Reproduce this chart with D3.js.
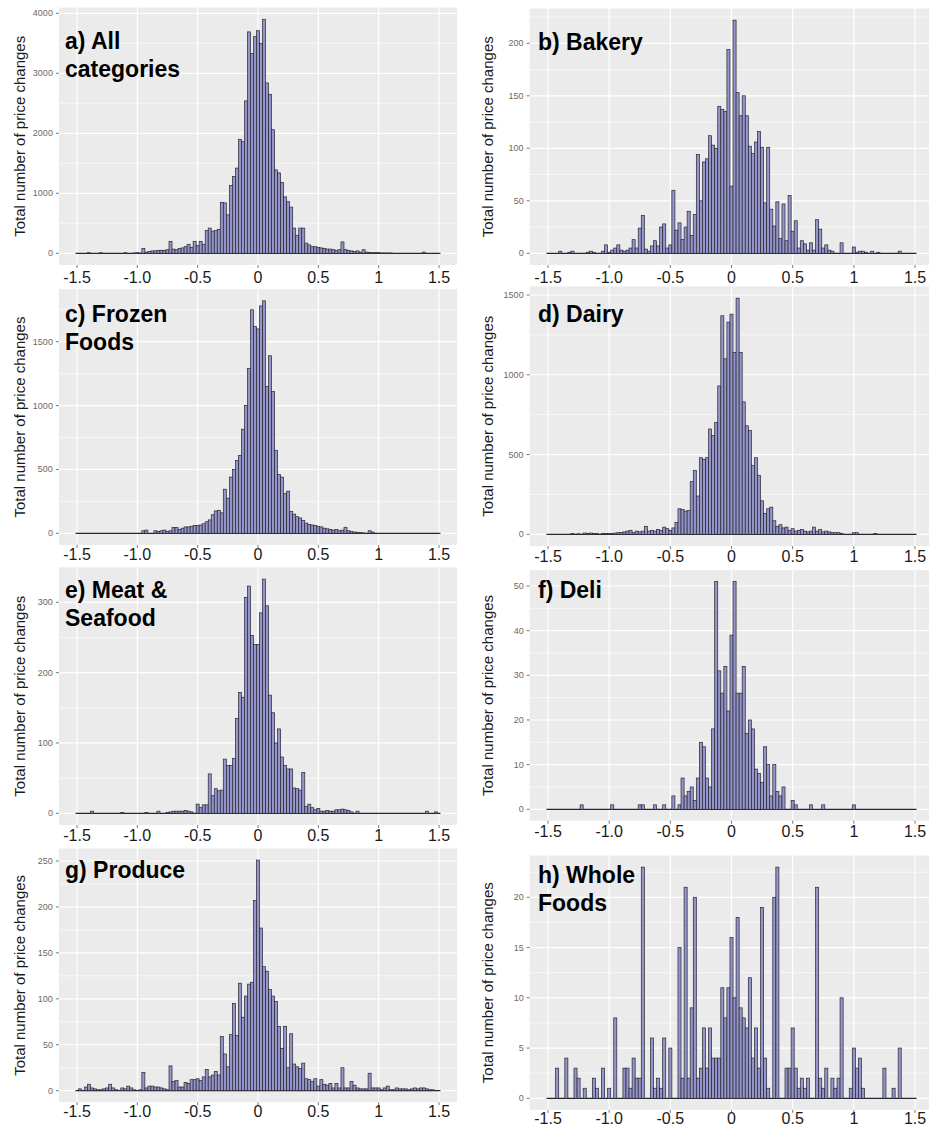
<!DOCTYPE html>
<html>
<head>
<meta charset="utf-8">
<script src="https://cdn.jsdelivr.net/npm/d3@7"></script>
<style>
  body { margin: 0; background: #fff; }
  svg { display: block; font-family: "Liberation Sans", Arial, sans-serif; }
</style>
</head>
<body>
<script>
  // bins are centred on -1.5, -1.475, ... 1.5 (121 bins)
  var binStart = -1.5;
  var binWidth = 0.025;

  var xTickValues = [-1.5, -1, -0.5, 0, 0.5, 1, 1.5];
  var xTickLabels = ["-1.5", "-1.0", "-0.5", "0", "0.5", "1", "1.5"];

  // counts per bin
  var allCategories = [
    0,0,0,0,10,0,0,0,10,0,
    0,0,0,0,0,0,10,0,0,5,
    10,5,80,20,30,40,40,50,50,50,
    60,200,70,60,80,90,110,150,100,200,
    130,200,150,380,420,370,380,400,850,840,
    640,1130,1280,1420,1900,1860,2540,3690,3330,3610,
    3710,3500,3900,2840,2650,2060,1390,1340,1180,940,
    860,770,420,300,420,420,170,140,110,110,
    100,90,80,70,70,60,50,60,190,60,
    50,40,30,40,20,60,20,15,10,10,
    10,5,5,5,5,0,0,0,0,0,
    0,0,0,0,0,20,0,0,0,0,0];
  var bakery = [
    0,0,0,0,2,0,0,1,2,0,
    0,0,0,1,2,1,0,0,2,8,
    1,3,5,8,3,2,3,5,13,5,
    24,36,4,2,7,12,7,25,28,5,
    8,60,22,29,13,25,40,17,37,94,
    50,87,90,112,103,100,140,137,135,194,
    64,222,153,131,150,131,102,95,106,116,
    101,48,101,42,26,49,14,47,12,55,
    21,31,5,12,9,3,10,3,32,23,
    5,8,3,2,0,0,10,0,0,0,
    6,1,2,2,1,0,2,0,1,0,
    0,0,0,0,0,2,0,0,0,0,0];
  var frozenFoods = [
    0,0,0,0,0,0,0,0,0,0,
    0,0,0,0,0,0,0,0,0,0,
    0,0,20,25,0,0,20,15,20,25,
    15,20,45,45,30,40,50,50,55,60,
    60,65,75,90,105,145,175,180,160,345,
    275,440,500,570,610,815,1000,1290,1750,1620,
    1600,1780,1820,1150,1390,1110,650,460,440,310,
    330,170,150,130,120,100,80,70,65,60,
    55,50,40,35,30,25,30,20,25,47,
    20,15,10,8,5,3,0,20,10,0,
    0,0,0,0,0,0,0,0,0,0,
    0,0,0,0,0,0,0,0,0,0,0];
  var dairy = [
    0,0,0,0,0,0,0,0,5,0,
    3,0,8,5,8,5,5,0,5,5,
    5,5,8,10,12,15,20,25,10,20,
    15,20,50,20,25,20,30,25,45,35,
    25,40,75,160,155,145,150,330,400,240,
    480,470,480,660,620,700,930,1370,1100,1330,
    1380,1140,1480,1140,830,680,650,430,480,370,
    210,130,160,170,85,50,60,40,45,25,
    35,20,25,30,20,15,20,45,20,30,
    15,20,15,10,10,10,5,0,0,0,
    10,10,0,0,0,0,0,5,0,0,
    0,0,0,0,0,0,0,0,0,0,0];
  var meatSeafood = [
    0,0,0,0,0,3,0,0,0,0,
    0,0,0,0,0,1,0,0,0,0,
    0,0,0,1,0,0,0,3,0,0,
    1,2,3,3,3,3,4,3,2,0,
    13,8,12,12,56,25,35,32,33,77,
    68,68,78,135,172,165,307,323,253,240,
    240,285,333,295,168,143,100,120,80,68,
    63,63,36,35,33,58,10,13,8,5,
    7,3,3,4,3,3,5,5,6,5,
    4,2,0,3,0,0,0,0,0,0,
    0,0,0,0,0,0,0,0,0,0,
    0,0,0,0,0,0,3,0,0,2,0];
  var deli = [
    0,0,0,0,0,0,0,0,0,0,
    0,1,0,0,0,0,0,0,0,0,
    0,1,0,0,0,0,0,0,0,0,
    1,1,0,0,0,1,0,0,1,0,
    0,3,0,1,7,3,4,5,2,7,
    15,14,7,5,18,51,31,26,32,22,
    39,51,26,26,32,17,20,18,9,8,
    6,14,10,3,10,4,3,5,0,0,
    2,1,0,0,0,0,1,0,0,0,
    1,0,0,0,0,0,0,0,0,0,
    1,0,0,0,0,0,0,0,0,0,
    0,0,0,0,0,0,0,0,0,0,0];
  var produce = [
    0,2,0,4,7,3,2,1,1,2,
    3,7,3,1,0,3,2,5,3,1,
    0,1,20,3,5,5,4,4,3,2,
    1,27,10,11,4,4,9,8,12,12,
    13,11,15,23,15,17,21,17,59,40,
    26,61,95,60,117,80,103,116,118,207,
    251,177,135,130,110,103,97,70,46,70,
    25,62,29,26,24,30,13,12,10,13,
    5,12,7,6,8,3,8,3,25,3,
    3,10,6,3,2,2,2,19,3,3,
    3,1,3,5,1,1,3,2,2,2,
    1,2,3,2,3,3,2,1,1,0,0];
  var wholeFoods = [
    0,0,0,3,0,0,4,0,0,3,
    2,0,1,0,0,2,1,0,3,0,
    1,0,8,0,0,3,3,1,4,2,
    2,23,0,0,6,1,2,1,6,0,
    5,0,0,15,2,21,2,9,20,2,
    3,7,3,7,4,4,4,11,8,11,
    16,10,18,9,8,7,12,4,7,3,
    19,4,1,0,20,23,0,0,3,3,
    7,3,1,2,1,2,0,0,21,2,
    1,3,0,2,1,2,10,0,0,1,
    5,3,4,1,0,0,0,0,0,0,
    3,0,0,1,0,5,0,0,0,0,0];

  var panels = [
    {title: ["a) All", "categories"], counts: allCategories, yTicks: [0,1000,2000,3000,4000],
     col: 0, zeroY: 253.3, refY: 13.3, titleY: 49.3, labelY: 283},
    {title: ["b) Bakery"], counts: bakery, yTicks: [0,50,100,150,200],
     col: 1, zeroY: 253.3, refY: 43.3, titleY: 50, labelY: 283},
    {title: ["c) Frozen", "Foods"], counts: frozenFoods, yTicks: [0,500,1000,1500],
     col: 0, zeroY: 533.3, refY: 341.7, titleY: 321.7, labelY: 560},
    {title: ["d) Dairy"], counts: dairy, yTicks: [0,500,1000,1500],
     col: 1, zeroY: 534.3, refY: 295, titleY: 321.7, labelY: 562},
    {title: ["e) Meat &", "Seafood"], counts: meatSeafood, yTicks: [0,100,200,300],
     col: 0, zeroY: 813.3, refY: 602.3, titleY: 597.7, labelY: 841},
    {title: ["f) Deli"], counts: deli, yTicks: [0,10,20,30,40,50],
     col: 1, zeroY: 809.3, refY: 586, titleY: 597.7, labelY: 837},
    {title: ["g) Produce"], counts: produce, yTicks: [0,50,100,150,200,250],
     col: 0, zeroY: 1090.7, refY: 861, titleY: 877.7, labelY: 1117},
    {title: ["h) Whole", "Foods"], counts: wholeFoods, yTicks: [0,5,10,15,20],
     col: 1, zeroY: 1098.3, refY: 897.3, titleY: 883.3, labelY: 1124}
  ];

  // pixel positions of -1.5 and 1.5 in each column
  var colX = [[77, 439], [548, 915]];
  var colTitleX = [65, 538];
  var colAxisTitleX = [25, 493];

  var svg = d3.select('body').append('svg')
    .attr('width', 929)
    .attr('height', 1127);

  panels.forEach(function(p) {
    var xScale = d3.scaleLinear().domain([-1.5, 1.5]).range(colX[p.col]);
    var top = p.yTicks[p.yTicks.length - 1];
    var yScale = d3.scaleLinear().domain([0, top]).range([p.zeroY, p.refY]);
    var maxCount = d3.max(p.counts);

    var bins = p.counts.map(function(c, i) {
      var mid = binStart + i * binWidth;
      return {x0: mid - binWidth / 2, x1: mid + binWidth / 2, count: c};
    });

    var left = xScale(-1.65), right = xScale(1.65);
    var upper = yScale(maxCount * 1.05), lower = yScale(-maxCount * 0.05);
    var g = svg.append('g');

    g.append('rect')
      .attr('x', left).attr('y', upper)
      .attr('width', right - left).attr('height', lower - upper)
      .attr('fill', '#ebebeb');

    // minor horizontal grid
    var step = p.yTicks[1] - p.yTicks[0];
    var minor = d3.range(step / 2, maxCount * 1.05, step);
    g.selectAll('.minor').data(minor).enter().append('line')
      .attr('x1', left).attr('x2', right)
      .attr('y1', d => yScale(d)).attr('y2', d => yScale(d))
      .attr('stroke', '#fff').attr('stroke-width', 0.6);

    g.selectAll('.hmajor').data(p.yTicks).enter().append('line')
      .attr('x1', left).attr('x2', right)
      .attr('y1', d => yScale(d)).attr('y2', d => yScale(d))
      .attr('stroke', '#fff').attr('stroke-width', 1.2);

    g.selectAll('.vmajor').data(xTickValues).enter().append('line')
      .attr('x1', d => xScale(d)).attr('x2', d => xScale(d))
      .attr('y1', upper).attr('y2', lower)
      .attr('stroke', '#fff').attr('stroke-width', 1.2);

    // baseline for the empty bins
    g.append('line')
      .attr('x1', xScale(bins[0].x0)).attr('x2', xScale(bins[bins.length - 1].x1))
      .attr('y1', yScale(0)).attr('y2', yScale(0))
      .attr('stroke', '#26262e').attr('stroke-width', 1.2);

    g.selectAll('.bar').data(bins.filter(d => d.count > 0)).enter().append('rect')
      .attr('x', d => xScale(d.x0))
      .attr('width', d => xScale(d.x1) - xScale(d.x0))
      .attr('y', d => yScale(d.count))
      .attr('height', d => yScale(0) - yScale(d.count))
      .attr('fill', '#9595cc')
      .attr('stroke', '#26262e')
      .attr('stroke-width', 0.7);

    // y axis ticks and labels
    g.selectAll('.ytick').data(p.yTicks).enter().append('line')
      .attr('x1', left - 3).attr('x2', left)
      .attr('y1', d => yScale(d)).attr('y2', d => yScale(d))
      .attr('stroke', '#555').attr('stroke-width', 0.8);
    g.selectAll('.ylab').data(p.yTicks).enter().append('text')
      .attr('x', left - 6)
      .attr('y', d => yScale(d) + 3)
      .attr('text-anchor', 'end')
      .attr('font-size', 9)
      .attr('fill', '#75665e')
      .text(d => d);

    // x axis ticks and labels
    g.selectAll('.xtick').data(xTickValues).enter().append('line')
      .attr('x1', d => xScale(d)).attr('x2', d => xScale(d))
      .attr('y1', lower).attr('y2', lower + 3)
      .attr('stroke', '#555').attr('stroke-width', 0.8);
    g.selectAll('.xlab').data(xTickValues).enter().append('text')
      .attr('x', d => xScale(d))
      .attr('y', p.labelY)
      .attr('text-anchor', 'middle')
      .attr('font-size', 16)
      .attr('fill', '#1a1a1a')
      .text((d, i) => xTickLabels[i]);

    g.append('text')
      .attr('transform', 'translate(' + colAxisTitleX[p.col] + ',' + ((upper + lower) / 2) + ') rotate(-90)')
      .attr('text-anchor', 'middle')
      .attr('font-size', 15)
      .attr('fill', '#1a1a1a')
      .text('Total number of price changes');

    var t = g.append('text')
      .attr('x', colTitleX[p.col])
      .attr('y', p.titleY)
      .attr('font-size', 23)
      .attr('font-weight', 'bold')
      .attr('fill', '#000');
    p.title.forEach(function(line, i) {
      t.append('tspan').attr('x', colTitleX[p.col]).attr('dy', i ? 28 : 0).text(line);
    });
  });
</script>
</body>
</html>
